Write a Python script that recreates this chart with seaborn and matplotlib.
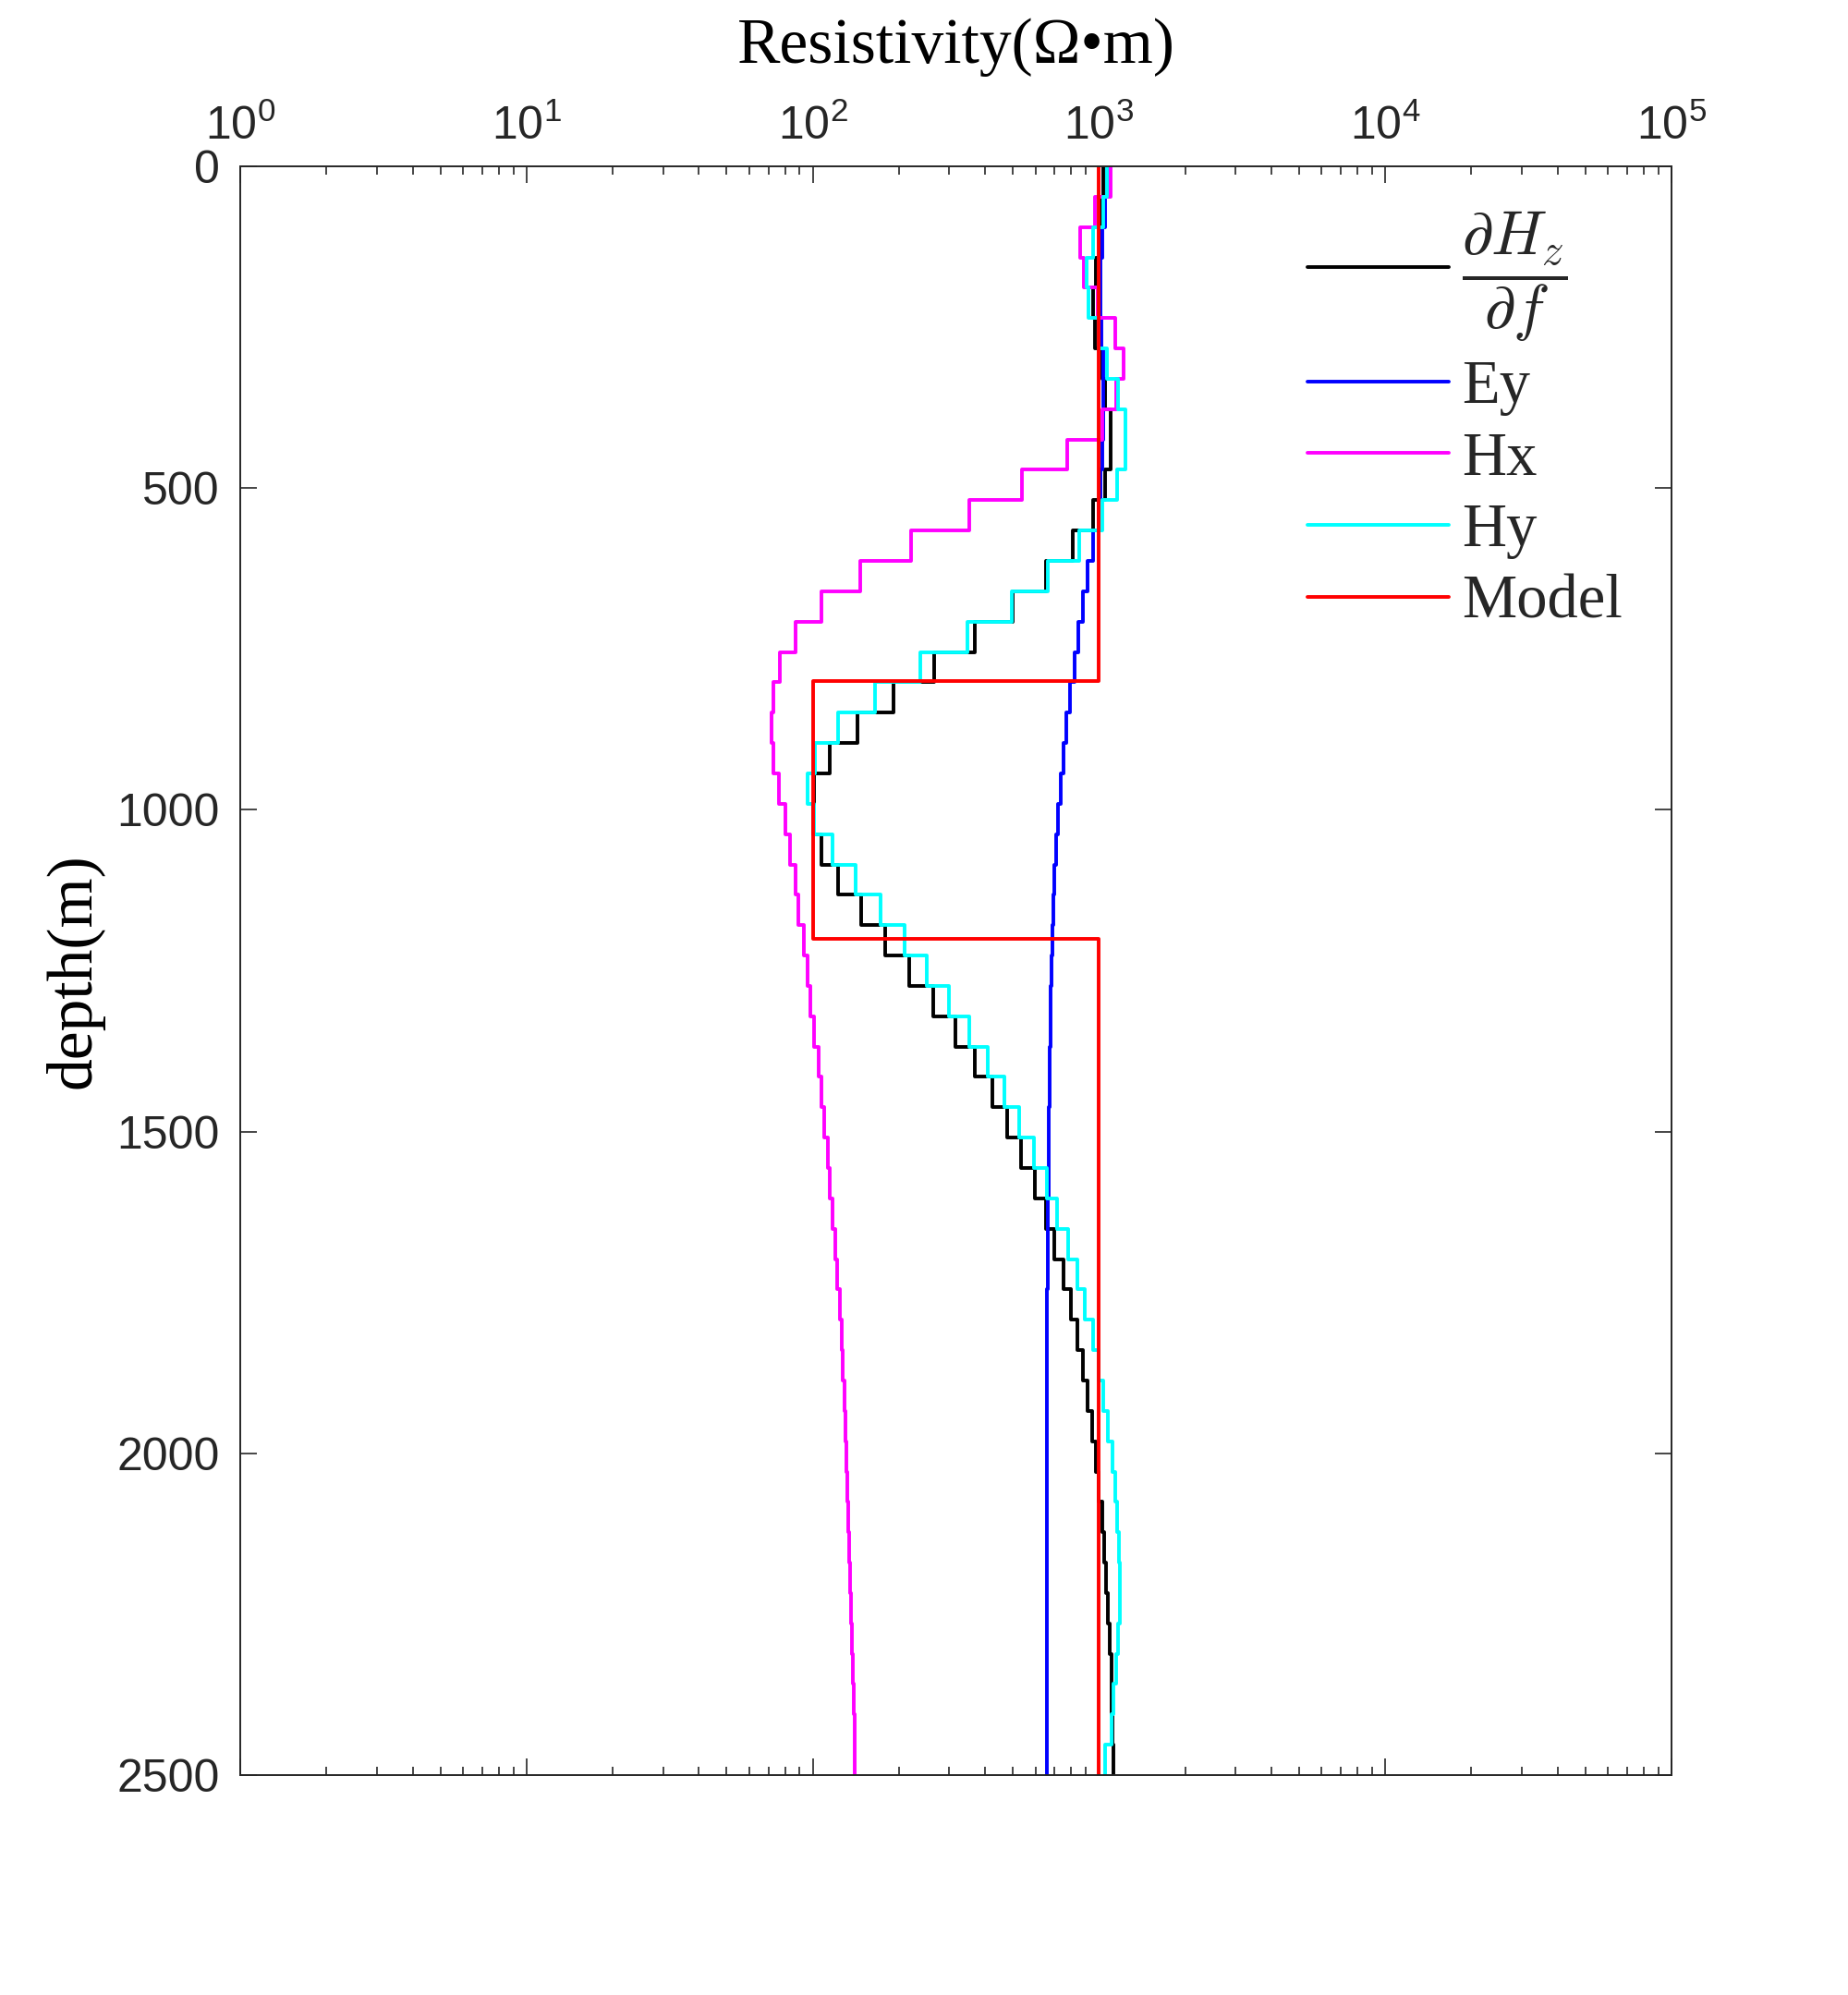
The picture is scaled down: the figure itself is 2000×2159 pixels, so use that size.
import numpy as np
import matplotlib
matplotlib.use("Agg")
import matplotlib.pyplot as plt
from matplotlib.lines import Line2D
from matplotlib.ticker import LogLocator, NullFormatter
import seaborn as sns

# 53 equal layers down to 2500 m
n_layers = 53
edges = np.linspace(0, 2500, n_layers + 1)

# resistivity per layer (ohm*m), top to bottom
dhz_df = [1038, 1020, 1005, 975, 956, 971, 1025, 1051, 1098, 1098,
          1051, 956, 810, 652, 500, 367, 265, 192, 143, 115,
          101, 100, 107, 123, 148, 179, 218, 264, 314, 367,
          424, 479, 536, 595, 653, 698, 752, 800, 841, 877,
          912, 947, 975, 1000, 1025, 1045, 1058, 1077, 1091, 1104,
          1110, 1118, 1126]
ey = [1064, 1051, 1025, 1012, 1012, 1020, 1033, 1038, 1033, 1025,
      1015, 995, 952, 912, 879, 847, 820, 790, 767, 749,
      734, 721, 707, 698, 693, 686, 681, 678, 676, 673,
      670, 668, 666, 665, 663, 661, 661, 660, 660, 660,
      660, 660, 660, 660, 660, 660, 660, 660, 660, 660,
      660, 660, 660]
hx = [1098, 968, 862, 884, 988, 1137, 1219, 1146, 1025, 777,
      539, 352, 221, 146, 107, 87, 77, 73, 72, 73,
      76, 80, 83, 87, 89, 93, 96, 98, 101, 105,
      107, 110, 113, 115, 117, 120, 122, 124, 126, 127,
      129, 130, 131, 132, 133, 134, 135, 136, 137, 138,
      139, 140, 140]
hy = [1069, 1033, 956, 906, 921, 995, 1064, 1166, 1234, 1234,
      1154, 1025, 855, 661, 494, 347, 237, 165, 123, 102,
      96, 101, 117, 141, 172, 209, 251, 299, 352, 408,
      467, 528, 592, 657, 716, 780, 841, 894, 952, 995,
      1038, 1077, 1112, 1137, 1154, 1175, 1180, 1180, 1166, 1149,
      1126, 1104, 1051]

model_rho = [1000, 1000, 100, 100, 1000, 1000]
model_depth = [0, 800, 800, 1200, 1200, 2500]

series = [
    (dhz_df, "black", r"$\dfrac{\partial H_z}{\partial f}$"),
    (ey, "#0000FF", "Ey"),
    (hx, "#FF00FF", "Hx"),
    (hy, "#00FFFF", "Hy"),
]


def to_steps(vals):
    vals = np.asarray(vals, dtype=float)
    x = np.repeat(vals, 2)
    y = np.column_stack([edges[:-1], edges[1:]]).ravel()
    return x, y


sns.set_theme(style="white")
plt.rcParams["font.family"] = ["Liberation Sans", "DejaVu Sans"]
plt.rcParams["mathtext.fontset"] = "cm"

fig, ax = plt.subplots(figsize=(10, 10.795), dpi=200)
fig.subplots_adjust(left=260 / 2000, right=1809 / 2000,
                    top=1 - 180 / 2159, bottom=1 - 1921 / 2159)

lw = 1.4
for vals, color, _ in series:
    x, y = to_steps(vals)
    sns.lineplot(x=x, y=y, sort=False, estimator=None, color=color,
                 linewidth=lw, ax=ax)
sns.lineplot(x=model_rho, y=model_depth, sort=False, estimator=None,
             color="#FF0000", linewidth=lw, ax=ax)

ax.set_xscale("log")
ax.set_xlim(1, 1e5)
ax.set_ylim(2500, 0)
ax.set_yticks([0, 500, 1000, 1500, 2000, 2500])
ax.xaxis.set_major_locator(LogLocator(base=10, numticks=10))
ax.xaxis.set_minor_locator(LogLocator(base=10, subs=np.arange(2, 10), numticks=20))
ax.xaxis.set_minor_formatter(NullFormatter())

axis_col = "#262626"
for sp in ax.spines.values():
    sp.set_color(axis_col)
    sp.set_linewidth(0.7)
ax.tick_params(axis="both", which="both", direction="in", colors=axis_col,
               width=0.6, labelsize=18)
ax.tick_params(axis="x", which="both", top=True, bottom=True,
               labeltop=True, labelbottom=False, pad=7)
ax.tick_params(axis="y", which="both", left=True, right=True, pad=8)
ax.tick_params(which="major", length=6.5)
ax.tick_params(which="minor", length=3.2)
ax.xaxis.set_label_position("top")

ax.set_xlabel("Resistivity(Ω•m)", fontfamily="Liberation Serif",
              fontsize=25, labelpad=16, color="black")
ax.set_ylabel("depth(m)", fontfamily="Liberation Serif",
              fontsize=25, labelpad=5, color="black")
ax.grid(False)

handles = [Line2D([], [], color=c, linewidth=lw) for _, c, _ in series]
handles.append(Line2D([], [], color="#FF0000", linewidth=lw))
labels = [lab for _, _, lab in series] + ["Model"]
ax.legend(handles, labels, loc="upper right",
          bbox_to_anchor=(1789 / 2000, 1 - 193 / 2159),
          bbox_transform=fig.transFigure, frameon=False, borderpad=0,
          handlelength=2.3, handletextpad=0.2, labelspacing=0.25,
          prop={"family": "Liberation Serif", "size": 24})

fig.savefig("out.png", dpi=200, facecolor="white")
